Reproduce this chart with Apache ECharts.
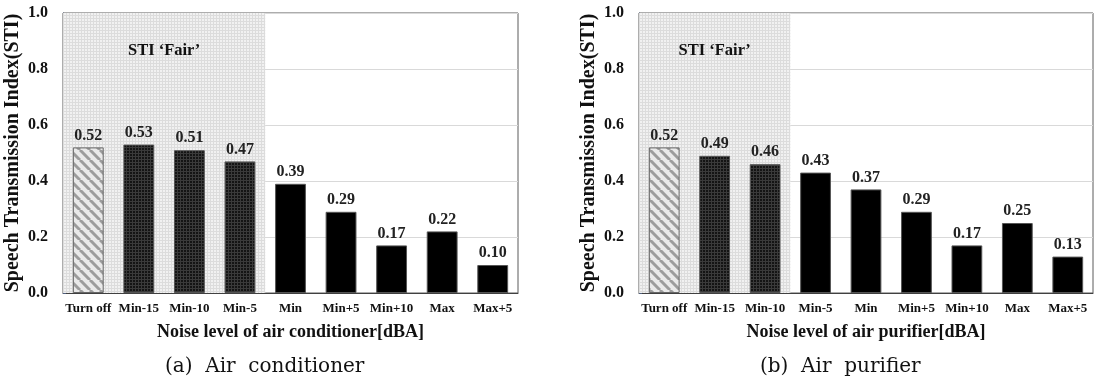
<!DOCTYPE html>
<html>
<head>
<meta charset="utf-8">
<script src="https://cdn.jsdelivr.net/npm/echarts@6/dist/echarts.min.js"></script>
<style>
  html, body { margin: 0; padding: 0; background: #fff; }
  #chart { width: 1099px; height: 382px; }
</style>
</head>
<body>
<div id="chart"></div>
<script>
// Noise conditions on the x axis
const categories = ['Turn off', 'Min-15', 'Min-10', 'Min-5', 'Min', 'Min+5', 'Min+10', 'Max', 'Max+5'];
// STI for each noise condition
const stiAirConditioner = [0.52, 0.53, 0.51, 0.47, 0.39, 0.29, 0.17, 0.22, 0.10];
const stiAirPurifier = [0.52, 0.49, 0.46, 0.43, 0.37, 0.29, 0.17, 0.25, 0.13];
// How many leading categories fall in the STI 'Fair' band
const fairCountAirConditioner = 4;
const fairCountAirPurifier = 3;
const yTicks = [0, 0.2, 0.4, 0.6, 0.8, 1.0];
const fairLabel = 'STI \u2018Fair\u2019';
const yTitle = 'Speech Transmission Index(STI)';
const xTitleA = 'Noise level of air conditioner[dBA]';
const xTitleB = 'Noise level of air purifier[dBA]';
const captionA = '(a)  Air  conditioner';
const captionB = '(b)  Air  purifier';

const SERIF = '"Liberation Serif", "DejaVu Serif", serif';
const CAPTION_FONT = '"DejaVu Serif", serif';

// Texture helpers
function makePattern(size, draw) {
  const c = document.createElement('canvas');
  c.width = size; c.height = size;
  draw(c.getContext('2d'), size);
  return { image: c, repeat: 'repeat' };
}
const stripePattern = makePattern(10, (g, s) => {
  g.fillStyle = '#e9e9e9';
  g.fillRect(0, 0, s, s);
  g.strokeStyle = '#9c9c9c';
  g.lineWidth = 3;
  for (let k = -1; k <= 1; k++) {
    g.beginPath();
    g.moveTo(k * s, 0);
    g.lineTo(k * s + s, s);
    g.stroke();
  }
});
const fineGridLight = makePattern(3, (g, s) => {
  g.fillStyle = '#f1f1f1';
  g.fillRect(0, 0, s, s);
  g.fillStyle = '#dcdcdc';
  g.fillRect(0, 0, s, 1);
  g.fillRect(0, 0, 1, s);
});
const fineGridDark = makePattern(3, (g, s) => {
  g.fillStyle = '#141414';
  g.fillRect(0, 0, s, s);
  g.fillStyle = '#3a3a3a';
  g.fillRect(0, 0, s, 1);
  g.fillRect(0, 0, 1, s);
});

// Reference bar hatched, bars inside the 'Fair' band textured, the rest solid black
function barData(values, fairCount) {
  return values.map((v, i) => {
    let color = '#000';
    let borderColor = '#555';
    if (i === 0) { color = stripePattern; borderColor = '#666'; }
    else if (i < fairCount) { color = fineGridDark; }
    return { value: v, itemStyle: { color, borderColor, borderWidth: 1 } };
  });
}

const grids = [
  { left: 63, right: 581, top: 13, bottom: 89 },
  { left: 639, right: 6, top: 13, bottom: 89 }
];

function catAxis(idx, title) {
  return {
    type: 'category', gridIndex: idx, data: categories,
    boundaryGap: true,
    axisLine: { show: true, lineStyle: { color: '#404040', width: 1 } },
    axisTick: { show: false },
    axisLabel: { interval: 0, margin: 9, fontFamily: SERIF, fontWeight: 'bold', fontSize: 13, color: '#111' },
    name: title, nameLocation: 'middle', nameGap: 30,
    nameTextStyle: { fontFamily: SERIF, fontWeight: 'bold', fontSize: 18, color: '#111' }
  };
}
function bandAxis(idx) {
  return { type: 'value', gridIndex: idx, min: 0, max: categories.length, show: false };
}
function valAxis(idx) {
  return {
    type: 'value', gridIndex: idx, min: yTicks[0], max: yTicks[yTicks.length - 1], interval: 0.2,
    axisLine: { show: true, lineStyle: { color: '#50607e', width: 1 } },
    axisTick: { show: true, inside: true, length: 3, lineStyle: { color: '#50607e' } },
    splitLine: { show: true, lineStyle: { color: '#d9d9d9', width: 1 } },
    axisLabel: { margin: 15, fontFamily: SERIF, fontWeight: 'bold', fontSize: 16, color: '#111',
      formatter: v => v.toFixed(1) },
    name: yTitle, nameLocation: 'middle', nameGap: 40, nameRotate: 90,
    nameTextStyle: { fontFamily: SERIF, fontWeight: 'bold', fontSize: 20, color: '#111' }
  };
}

function fairSeries(idx, count) {
  return {
    type: 'line', xAxisIndex: idx * 2 + 1, yAxisIndex: idx, data: [], z: 0,
    silent: true,
    markArea: {
      silent: true,
      itemStyle: { color: fineGridLight },
      label: { show: true, position: 'insideTop', distance: 29, formatter: fairLabel,
        fontFamily: SERIF, fontWeight: 'bold', fontSize: 16.5, color: '#111' },
      data: [[{ xAxis: 0, yAxis: 0 }, { xAxis: count, yAxis: 1 }]]
    }
  };
}
function barSeries(idx, values, count) {
  return {
    type: 'bar', xAxisIndex: idx * 2, yAxisIndex: idx, barWidth: '61%', z: 3,
    data: barData(values, count),
    label: { show: true, position: 'top', distance: 4, formatter: p => p.value.toFixed(2),
      fontFamily: SERIF, fontWeight: 'bold', fontSize: 16, color: '#222' }
  };
}

const chart = echarts.init(document.getElementById('chart'), null, { renderer: 'canvas' });
chart.setOption({
  animation: false,
  grid: grids.map(g => Object.assign({ show: true, borderColor: '#5a5a5a', borderWidth: 1, backgroundColor: 'transparent' }, g)),
  xAxis: [catAxis(0, xTitleA), bandAxis(0), catAxis(1, xTitleB), bandAxis(1)],
  yAxis: [valAxis(0), valAxis(1)],
  series: [
    fairSeries(0, fairCountAirConditioner),
    fairSeries(1, fairCountAirPurifier),
    barSeries(0, stiAirConditioner, fairCountAirConditioner),
    barSeries(1, stiAirPurifier, fairCountAirPurifier)
  ],
  graphic: [
    { type: 'text', left: 165, top: 357, style: { text: captionA, font: '20px ' + CAPTION_FONT, fill: '#111' } },
    { type: 'text', left: 760, top: 357, style: { text: captionB, font: '20px ' + CAPTION_FONT, fill: '#111' } }
  ]
});
</script>
</body>
</html>
